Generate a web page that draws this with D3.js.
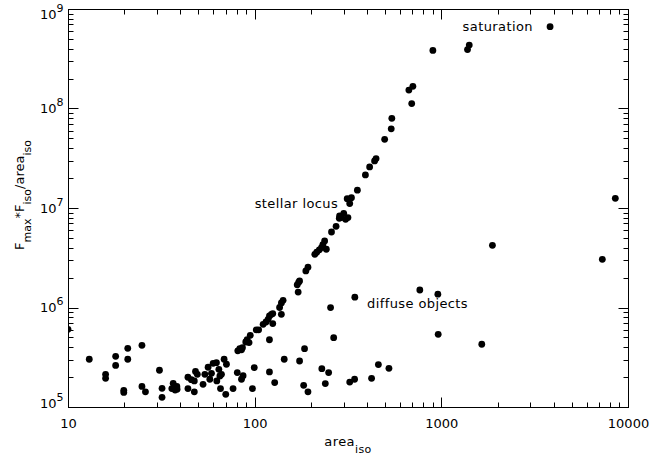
<!DOCTYPE html>
<html>
<head>
<meta charset="utf-8">
<script src="https://cdn.jsdelivr.net/npm/d3@7"></script>
<style>
  body { margin: 0; background: #fff; }
  svg { display: block; font-family: "DejaVu Sans", sans-serif; }
</style>
</head>
<body>
<div id="chart"></div>
<script>
// isophotal area of each object
const areaIso = [
  10, 13.0, 15.9, 15.9, 18.0, 18.0, 20.9, 20.9, 19.9, 19.9,
  24.9, 24.9, 26.0, 30.9, 31.9, 31.9, 36.6, 36.0, 37.5, 38.4,
  38.3, 43.9, 43.9, 45.8, 47.5, 48.2, 49.3, 47.5, 52.9, 54.1,
  56.3, 57.5, 58.7, 59.9, 62.4, 62.7, 64.3, 65.1, 66.4, 65.6,
  68.6, 70.6, 70.0, 76.6, 80.7, 81.2, 83.2, 85.0, 86.0, 85.0,
  86.7, 89.6, 91.1, 93.3, 94.7, 97.3, 99.5, 102, 105, 111,
  115, 118, 120, 123, 125, 120, 120, 125, 128, 136,
  139, 142, 139, 144, 169, 172, 174, 171, 174, 183,
  193, 185, 188, 193, 210, 215, 222, 228, 232, 237,
  242, 229, 249, 239, 255, 265, 258, 273, 284, 285,
  291, 300, 307, 316, 313, 323, 330, 323, 343, 344,
  355, 392, 413, 439, 447, 423, 460, 524, 497, 539,
  543, 670, 704, 694, 767, 958, 962, 901, 1381, 1411,
  1647, 1878, 3824, 7286, 8551
];

// Fmax * Fiso / area_iso
const fluxRatio = [
  6.04e5, 3.02e5, 2.13e5, 1.94e5, 3.23e5, 2.62e5, 3.89e5, 3.02e5, 1.47e5, 1.40e5,
  4.17e5, 1.61e5, 1.42e5, 2.34e5, 1.54e5, 1.25e5, 1.73e5, 1.53e5, 1.48e5, 1.51e5,
  1.61e5, 1.99e5, 1.53e5, 1.88e5, 1.83e5, 2.28e5, 2.13e5, 1.42e5, 1.69e5, 2.13e5,
  2.51e5, 1.90e5, 2.18e5, 2.75e5, 2.79e5, 1.83e5, 2.39e5, 2.05e5, 2.13e5, 1.53e5,
  3.02e5, 2.69e5, 1.34e5, 1.53e5, 2.22e5, 3.67e5, 3.86e5, 3.76e5, 3.95e5, 1.90e5,
  2.06e5, 4.50e5, 4.74e5, 4.44e5, 5.25e5, 1.53e5, 2.49e5, 5.97e5, 5.97e5, 6.78e5,
  7.15e5, 7.61e5, 8.21e5, 8.54e5, 8.68e5, 4.74e5, 2.25e5, 6.89e5, 1.76e5, 1.00e6,
  1.11e6, 1.18e6, 8.54e5, 3.02e5, 1.69e6, 1.79e6, 1.85e6, 1.43e6, 2.90e5, 1.65e5,
  1.42e5, 3.86e5, 2.33e6, 2.54e6, 3.42e6, 3.59e6, 3.80e6, 4.00e6, 4.27e6, 4.66e6,
  3.85e6, 2.43e5, 2.22e5, 1.72e5, 9.98e5, 4.98e5, 5.74e6, 6.55e6, 7.88e6, 8.31e6,
  8.01e6, 8.85e6, 7.70e6, 8.01e6, 1.24e7, 1.11e7, 1.27e7, 1.78e5, 1.90e5, 1.27e6,
  1.51e7, 2.15e7, 2.59e7, 2.97e7, 3.14e7, 1.94e5, 2.67e5, 2.45e5, 4.90e7, 6.25e7,
  7.97e7, 1.53e8, 1.67e8, 1.12e8, 1.50e6, 1.36e6, 5.38e5, 3.83e8, 3.91e8, 4.34e8,
  4.27e5, 4.22e6, 6.65e8, 3.05e6, 1.25e7
];

const xTickValues = [10, 100, 1000, 10000];
const yTickExponents = [5, 6, 7, 8, 9];

// annotations, placed in data coordinates
const noteText = ["saturation", "stellar locus", "diffuse objects"];
const noteArea = [1300, 100, 400];
const noteFlux = [6.05e8, 1.0e7, 1.0e6];

const size = {
  width: 672,
  height: 458,
  margin: { top: 9, right: 44, bottom: 51, left: 68 }
};

const x0 = size.margin.left, x1 = size.width - size.margin.right;
const y0 = size.margin.top, y1 = size.height - size.margin.bottom;

const xScale = d3.scaleLog().domain([10, 10000]).range([x0, x1]);
const yScale = d3.scaleLog().domain([1e5, 1e9]).range([y1, y0]);

// minor ticks 2..9 within each decade
const minorTicks = (majors) => {
  const out = [];
  majors.slice(0, -1).forEach((m) => { for (let k = 2; k <= 9; k++) out.push(m * k); });
  return out;
};
const yTickValues = yTickExponents.map((e) => Math.pow(10, e));
const xTicks = xTickValues.map((v) => ({ v, len: 10 }))
  .concat(minorTicks(xTickValues).map((v) => ({ v, len: 5 })));
const yTicks = yTickValues.map((v) => ({ v, len: 10 }))
  .concat(minorTicks(yTickValues).map((v) => ({ v, len: 5 })));

const svg = d3.select("#chart")
  .append("svg")
  .attr("width", size.width)
  .attr("height", size.height);

svg.append("defs").append("clipPath")
  .attr("id", "plotClip")
  .append("rect")
  .attr("x", x0 + 0.5).attr("y", y0 + 0.5)
  .attr("width", x1 - x0).attr("height", y1 - y0);

// data points
svg.append("g")
  .attr("clip-path", "url(#plotClip)")
  .selectAll("circle")
  .data(areaIso.map((a, i) => ({ x: a, y: fluxRatio[i] })))
  .enter()
  .append("circle")
  .attr("cx", (d) => xScale(d.x))
  .attr("cy", (d) => yScale(d.y))
  .attr("r", 3.4)
  .attr("fill", "#000");

// frame
svg.append("rect")
  .attr("x", x0 + 0.5).attr("y", y0 + 0.5)
  .attr("width", x1 - x0).attr("height", y1 - y0)
  .attr("fill", "none")
  .attr("stroke", "#000");

// ticks point inwards on all four sides
const px = (v) => Math.round(v) + 0.5;
const tickG = svg.append("g").attr("stroke", "#000").attr("stroke-width", 1);

tickG.selectAll(".tb").data(xTicks).enter().append("line")
  .attr("x1", (d) => px(xScale(d.v))).attr("x2", (d) => px(xScale(d.v)))
  .attr("y1", y1 + 0.5).attr("y2", (d) => y1 + 0.5 - d.len);
tickG.selectAll(".tt").data(xTicks).enter().append("line")
  .attr("x1", (d) => px(xScale(d.v))).attr("x2", (d) => px(xScale(d.v)))
  .attr("y1", y0 + 0.5).attr("y2", (d) => y0 + 0.5 + d.len);
tickG.selectAll(".tl").data(yTicks).enter().append("line")
  .attr("y1", (d) => px(yScale(d.v))).attr("y2", (d) => px(yScale(d.v)))
  .attr("x1", x0 + 0.5).attr("x2", (d) => x0 + 0.5 + d.len);
tickG.selectAll(".tr").data(yTicks).enter().append("line")
  .attr("y1", (d) => px(yScale(d.v))).attr("y2", (d) => px(yScale(d.v)))
  .attr("x1", x1 + 0.5).attr("x2", (d) => x1 + 0.5 - d.len);

// x tick labels
svg.append("g")
  .selectAll("text")
  .data(xTickValues)
  .enter()
  .append("text")
  .attr("x", (d) => xScale(d) + 0.5)
  .attr("y", y1 + 21)
  .attr("text-anchor", "middle")
  .attr("font-size", 13)
  .attr("fill", "#000")
  .text((d) => d3.format("d")(d));

// y tick labels as 10^n
const yLabelShift = (i) => (i === 0 ? 1 : i === yTickExponents.length - 1 ? 10 : 4.7);
const yLabels = svg.append("g")
  .selectAll("text")
  .data(yTickExponents)
  .enter()
  .append("text")
  .attr("x", x0 - 4.5)
  .attr("y", (d, i) => yScale(Math.pow(10, d)) + yLabelShift(i))
  .attr("text-anchor", "end")
  .attr("font-size", 13)
  .attr("fill", "#000");
yLabels.append("tspan").text("10");
yLabels.append("tspan").attr("font-size", 11).attr("dy", -7).text((d) => d);

// axis titles
const xTitle = svg.append("text")
  .attr("x", (x0 + x1) / 2)
  .attr("y", 446)
  .attr("text-anchor", "middle")
  .attr("font-size", 13)
  .attr("letter-spacing", 0.4)
  .attr("fill", "#000");
xTitle.append("tspan").text("area");
xTitle.append("tspan").attr("font-size", 11).attr("dy", 7).text("iso");

const yTitle = svg.append("text")
  .attr("transform", "translate(23.5,195) rotate(-90)")
  .attr("text-anchor", "middle")
  .attr("font-size", 13)
  .attr("fill", "#000");
yTitle.append("tspan").text("F");
yTitle.append("tspan").attr("font-size", 11).attr("dy", 7).text("max");
yTitle.append("tspan").attr("dy", -7).text("*F");
yTitle.append("tspan").attr("font-size", 11).attr("dy", 7).text("iso");
yTitle.append("tspan").attr("dy", -7).text("/area");
yTitle.append("tspan").attr("font-size", 11).attr("dy", 7).text("iso");

// annotations
svg.append("g")
  .selectAll("text")
  .data(noteText)
  .enter()
  .append("text")
  .attr("x", (d, i) => xScale(noteArea[i]))
  .attr("y", (d, i) => yScale(noteFlux[i]))
  .attr("font-size", 13)
  .attr("letter-spacing", 0.4)
  .attr("fill", "#000")
  .text((d) => d);
</script>
</body>
</html>
